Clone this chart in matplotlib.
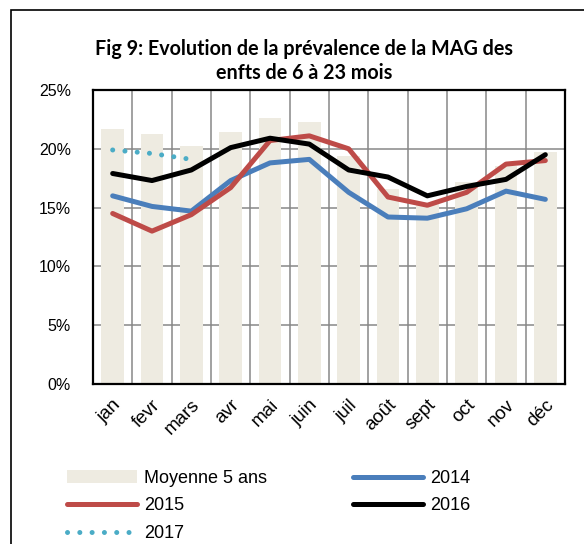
import matplotlib.pyplot as plt
import numpy as np
from matplotlib.patches import Rectangle
from matplotlib.ticker import PercentFormatter

plt.rcParams['font.family'] = ['Liberation Sans', 'DejaVu Sans']

# Data (prevalence in %)
months = ['jan', 'fevr', 'mars', 'avr', 'mai', 'juin',
          'juil', 'août', 'sept', 'oct', 'nov', 'déc']
moyenne_5ans = [21.7, 21.3, 20.2, 21.4, 22.6, 22.3,
                19.4, 16.6, 15.3, 17.2, 18.5, 19.7]
y2014 = [16.0, 15.1, 14.7, 17.3, 18.8, 19.1,
         16.3, 14.2, 14.1, 14.9, 16.4, 15.7]
y2015 = [14.5, 13.0, 14.4, 16.7, 20.7, 21.1,
         20.0, 15.9, 15.2, 16.3, 18.7, 19.0]
y2016 = [17.9, 17.3, 18.2, 20.1, 20.9, 20.4,
         18.2, 17.6, 16.0, 16.8, 17.4, 19.5]
y2017 = [19.9, 19.6, 19.1]

x = np.arange(len(months))

fig = plt.figure(figsize=(5.84, 5.44), dpi=100)
ax = fig.add_axes([93 / 584, 1 - 384 / 544, 472 / 584, 294 / 544])

bars = ax.bar(x, moyenne_5ans, width=0.57, color='#EEEBE1', zorder=1,
              label='Moyenne 5 ans')
l14, = ax.plot(x, y2014, color='#4A7EBB', lw=3.6, solid_capstyle='round',
               zorder=3, label='2014')
l15, = ax.plot(x, y2015, color='#BE4B48', lw=3.6, solid_capstyle='round',
               zorder=3, label='2015')
l16, = ax.plot(x, y2016, color='black', lw=3.6, solid_capstyle='round',
               zorder=4, label='2016')
l17, = ax.plot(x[:len(y2017)], y2017, color='#4BACC6', lw=3.6,
               linestyle=(0, (0.01, 2.45)), dash_capstyle='round',
               zorder=3, label='2017')

ax.set_xlim(-0.5, 11.5)
ax.set_ylim(0, 25)
ax.set_yticks(np.arange(0, 26, 5))
ax.yaxis.set_major_formatter(PercentFormatter(decimals=0))
ax.set_xticks(x)
ax.set_xticklabels(months, rotation=45, ha='right', rotation_mode='anchor')
ax.set_xticks(np.arange(0.5, 11.5, 1), minor=True)
ax.tick_params(axis='both', which='both', length=0)
ax.tick_params(axis='y', pad=16, labelsize=11.5)
ax.tick_params(axis='x', pad=9, labelsize=13.5)

ax.grid(axis='y', which='major', color='#878787', lw=1.1, zorder=0)
ax.grid(axis='x', which='minor', color='#878787', lw=1.1, zorder=0)
ax.grid(axis='x', which='major', visible=False)
ax.set_axisbelow(True)
for s in ax.spines.values():
    s.set_linewidth(1.6)

fig.text(95 / 584, 1 - 61 / 544,
         'Fig 9: Evolution de la prévalence de la MAG des\nenfts de 6 à 23 mois',
         ha='left', va='center', multialignment='center', fontsize=14.2,
         fontweight='bold', family=['Lato', 'DejaVu Sans'], linespacing=1.2)

fig.legend([bars, l15, l17, l14, l16],
           ['Moyenne 5 ans', '2015', '2017', '2014', '2016'],
           ncol=2, loc='upper left', bbox_to_anchor=(67 / 584, 1 - 470 / 544),
           frameon=False, fontsize=13, handlelength=3.9, handletextpad=0.38,
           columnspacing=4.75, labelspacing=0.58, borderpad=0, borderaxespad=0)

fig.add_artist(Rectangle((11 / 584, -0.05), 1.0, 1.05 - 10 / 544,
                         transform=fig.transFigure, fill=False,
                         edgecolor='black', lw=1.2))

fig.savefig('out.png', dpi=100)
